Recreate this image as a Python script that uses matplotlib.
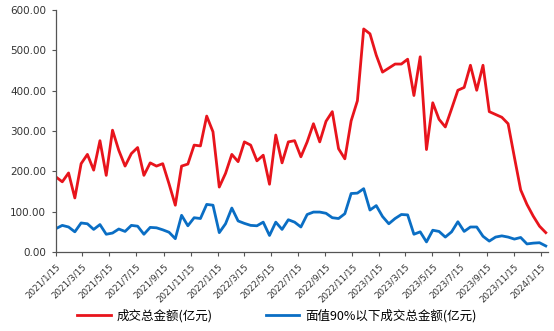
import pandas as pd
import matplotlib
matplotlib.use("Agg")
import matplotlib.pyplot as plt

# biweekly observations, 2021/1/15 .. late Jan 2024
n_points = 79
dates = pd.date_range("2021-01-15", "2024-01-26", periods=n_points)

total_amount = [
    186, 174, 196, 134, 219, 242, 203, 276, 190, 302,
    252, 213, 244, 259, 190, 221, 213, 219, 169, 116,
    213, 218, 265, 263, 337, 298, 161, 195, 242, 224,
    273, 265, 226, 240, 168, 290, 221, 273, 276, 236,
    273, 318, 273, 324, 348, 256, 231, 325, 375, 553,
    541, 488, 446, 456, 466, 466, 478, 388, 484, 254,
    370, 329, 310, 355, 401, 408, 463, 401, 463, 348,
    341, 334, 318, 235, 154, 118, 89, 64, 48,
]
below90_amount = [
    58, 66, 62, 50, 72, 70, 56, 68, 44, 47,
    57, 51, 66, 64, 44, 61, 60, 55, 49, 33,
    91, 65, 85, 83, 118, 116, 48, 70, 109, 77,
    71, 66, 65, 74, 41, 74, 56, 80, 74, 62,
    93, 99, 99, 96, 85, 83, 95, 145, 146, 157,
    104, 115, 88, 70, 83, 93, 92, 44, 50, 25,
    54, 51, 37, 50, 75, 51, 62, 62, 39, 27,
    37, 40, 37, 32, 36, 20, 22, 23, 15,
]
series_labels = ["成交总金额(亿元)", "面值90%以下成交总金额(亿元)"]
series_colors = ["#E8141C", "#0A6EC4"]

tick_dates = pd.date_range("2021-01-15", periods=19, freq=pd.DateOffset(months=2))
y_ticks = [0, 100, 200, 300, 400, 500, 600]

plt.rcParams["font.family"] = ["Noto Sans CJK SC", "DejaVu Sans"]

fig = plt.figure(figsize=(5.54, 3.31), dpi=100)
ax = fig.add_axes([56 / 554, 79 / 331, 492 / 554, 242 / 331])

ax.plot(dates, total_amount, color=series_colors[0], lw=2.0, label=series_labels[0])
ax.plot(dates, below90_amount, color=series_colors[1], lw=2.0, label=series_labels[1])

ax.set_xlim(pd.Timestamp("2021-01-15"), pd.Timestamp("2024-01-31"))
ax.set_ylim(0, 600)
ax.set_yticks(y_ticks)
ax.set_yticklabels([f"{v:.2f}" for v in y_ticks], fontsize=7.5, family="DejaVu Sans", color="#333333")
ax.set_xticks(tick_dates)
ax.set_xticklabels([f"{d.year}/{d.month}/{d.day}" for d in tick_dates],
                   rotation=45, ha="right", rotation_mode="anchor",
                   fontsize=6.3, family="DejaVu Sans", color="#333333")

for side in ["top", "right"]:
    ax.spines[side].set_visible(False)
for side in ["left", "bottom"]:
    ax.spines[side].set_color("#555555")
    ax.spines[side].set_linewidth(0.9)
ax.tick_params(axis="both", direction="out", length=3, width=0.8, color="#555555")
ax.tick_params(axis="y", pad=4)
ax.tick_params(axis="x", pad=4)

fig.legend(loc="center", bbox_to_anchor=(0.5, 15 / 331), ncol=2, frameon=False,
           fontsize=9, handlelength=2.7, handletextpad=0.5, columnspacing=4.2)

fig.savefig("out.png", dpi=100)
